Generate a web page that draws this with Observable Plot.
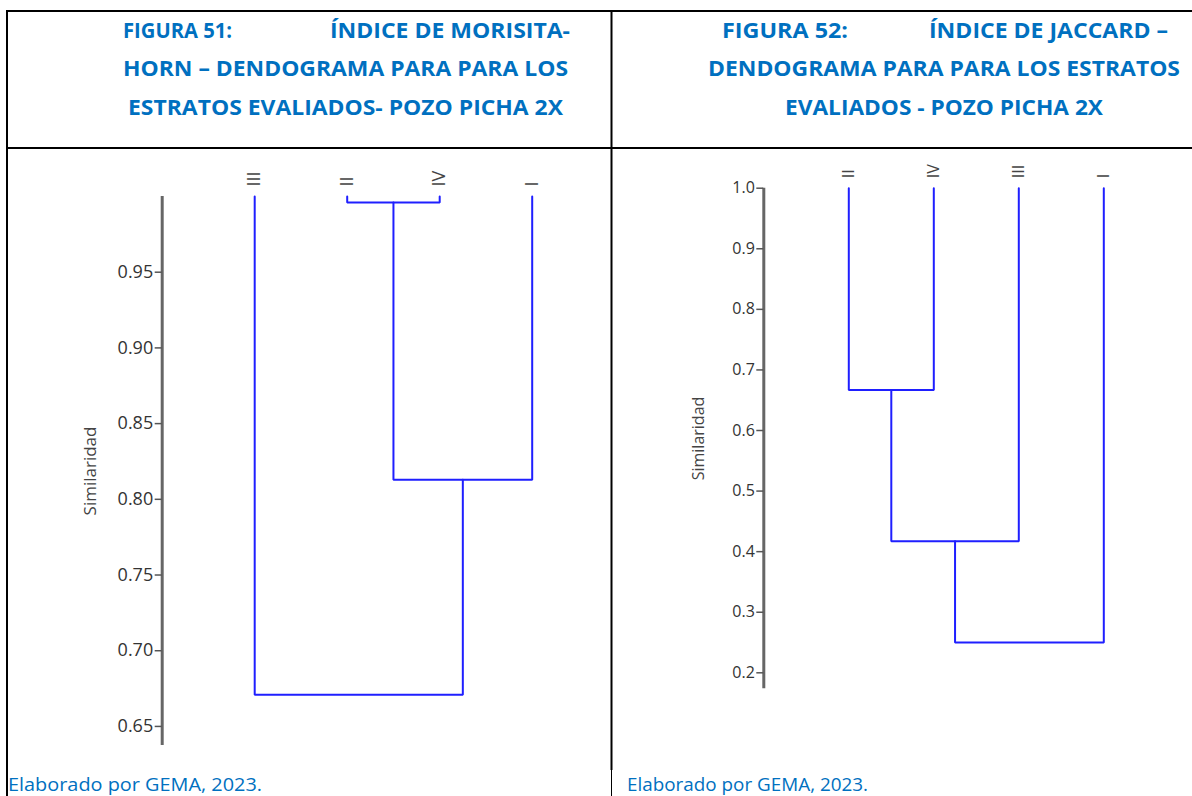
<!DOCTYPE html>
<html>
<head>
<meta charset="utf-8">
<script src="https://cdn.jsdelivr.net/npm/d3@7"></script>
<script src="https://cdn.jsdelivr.net/npm/@observablehq/plot@0.6"></script>
<style>
  html, body { margin: 0; padding: 0; background: #fff; }
  #page { position: relative; width: 1192px; height: 796px; overflow: hidden; background: #fff; }
  .chart { position: absolute; }
  #overlay { position: absolute; left: 0; top: 0; pointer-events: none; }
</style>
</head>
<body>
<div id="page">
  <div id="left" class="chart" style="left:0px; top:150px;"></div>
  <div id="right" class="chart" style="left:610px; top:150px;"></div>
  <svg id="overlay" width="1192" height="796"></svg>
</div>
<script>
// ---- Data: Morisita-Horn dendrogram (Figura 51)
const moriLeaves = ["III", "II", "IV", "I"];
const moriLeft   = ["II", "II-IV", "III"];
const moriRight  = ["IV", "I", "II-IV-I"];
const moriSim    = [0.996, 0.813, 0.671];
const moriTicks  = [0.65, 0.70, 0.75, 0.80, 0.85, 0.90, 0.95];

// ---- Data: Jaccard dendrogram (Figura 52)
const jacLeaves = ["II", "IV", "III", "I"];
const jacLeft   = ["II", "II-IV", "II-IV-III"];
const jacRight  = ["IV", "III", "I"];
const jacSim    = [0.667, 0.417, 0.25];
const jacTicks  = [0.2, 0.3, 0.4, 0.5, 0.6, 0.7, 0.8, 0.9, 1.0];

// ---- Texts
const title51 = ["FIGURA 51:", "ÍNDICE DE MORISITA-", "HORN – DENDOGRAMA PARA PARA LOS", "ESTRATOS EVALIADOS- POZO PICHA 2X"];
const title52 = ["FIGURA 52:", "ÍNDICE DE JACCARD –", "DENDOGRAMA PARA PARA LOS ESTRATOS", "EVALIADOS - POZO PICHA 2X"];
const captionText = "Elaborado por GEMA, 2023.";
const yLabel = "Similaridad";

function dendro(leaves, lefts, rights, sims, cfg) {
  const pos = new Map(leaves.map((d, i) => [d, {x: i, y: 1}]));
  const pts = [];
  lefts.forEach((l, i) => {
    const r = rights[i], a = pos.get(l), b = pos.get(r), s = sims[i];
    pts.push({id: i, x: a.x, y: a.y}, {id: i, x: a.x, y: s}, {id: i, x: b.x, y: s}, {id: i, x: b.x, y: b.y});
    pos.set(l + "-" + r, {x: (a.x + b.x) / 2, y: s});
  });
  return Plot.plot({
    width: cfg.width, height: cfg.height,
    marginLeft: cfg.ml, marginRight: cfg.mr, marginTop: cfg.mt, marginBottom: cfg.mb,
    x: {type: "linear", domain: [-1, leaves.length - 1], axis: null},
    y: {type: "linear", domain: cfg.domain, axis: null},
    style: {fontFamily: "'Open Sans', sans-serif", fontSize: cfg.fs + "px", color: "#333", background: "transparent", overflow: "visible"},
    marks: [
      Plot.ruleX([-1], {y1: cfg.domain[0], y2: cfg.domain[1], stroke: "#666", strokeWidth: 3}),
      Plot.axisY({ticks: cfg.ticks, tickFormat: d3.format(cfg.fmt), tickSize: 7, tickPadding: 2,
                  stroke: "#555", strokeWidth: 1.5, fill: "#333", label: null, fontSize: cfg.fs}),
      Plot.line(pts, {x: "x", y: "y", z: "id", stroke: "#1f1fff", strokeWidth: 2, strokeLinejoin: "miter", curve: "linear"}),
      Plot.text(leaves, {x: (d, i) => i, y: () => 1, text: d => d, rotate: -90, textAnchor: "start",
                         dy: -10, fill: "#444", fontSize: cfg.fs}),
      Plot.text([yLabel], {frameAnchor: "left", textAnchor: "middle", dx: -cfg.labelDx, rotate: -90,
                           fill: "#444", fontSize: cfg.lfs})
    ]
  });
}

document.getElementById("left").appendChild(dendro(moriLeaves, moriLeft, moriRight, moriSim, {
  width: 610, height: 620, ml: 161.7, mr: 78.3, mt: 46, mb: 25,
  domain: [0.6374, 1.0], ticks: moriTicks, fmt: ".2f", fs: 18, lfs: 17, labelDx: 72
}));
document.getElementById("right").appendChild(dendro(jacLeaves, jacLeft, jacRight, jacSim, {
  width: 582, height: 620, ml: 153.3, mr: 88.7, mt: 37.7, mb: 81.7,
  domain: [0.1736, 1.0], ticks: jacTicks, fmt: ".1f", fs: 16, lfs: 16, labelDx: 65
}));

// ---- Document table frame, titles and captions
const svg = d3.select("#overlay");
const lines = [
  [6, 11, 1192, 11, 2], [7, 11, 7, 796, 2], [6, 148, 1192, 148, 2],
  [611.5, 11, 611.5, 770, 2], [611.5, 770, 611.5, 796, 1]
];
svg.selectAll("line").data(lines).join("line")
  .attr("x1", d => d[0]).attr("y1", d => d[1]).attr("x2", d => d[2]).attr("y2", d => d[3])
  .attr("stroke", "#000").attr("stroke-width", d => d[4]);

const titleBits = [
  {t: title51[0], x: 123, w: 109, y: 38}, {t: title51[1], x: 330, w: 240, y: 38},
  {t: title51[2], x: 123, w: 445, y: 76}, {t: title51[3], x: 128, w: 435, y: 115},
  {t: title52[0], x: 722, w: 126, y: 38}, {t: title52[1], x: 929, w: 239, y: 38},
  {t: title52[2], x: 708, w: 472, y: 76}, {t: title52[3], x: 785, w: 318, y: 115}
];
svg.selectAll("text.title").data(titleBits).join("text").attr("class", "title")
  .attr("x", d => d.x).attr("y", d => d.y).attr("textLength", d => d.w).attr("lengthAdjust", "spacingAndGlyphs")
  .attr("font-family", "'Open Sans', sans-serif").attr("font-weight", "bold").attr("font-size", 21)
  .attr("fill", "#0070c0").text(d => d.t);

svg.selectAll("text.cap").data([{x: 8, w: 254}, {x: 627, w: 241}]).join("text").attr("class", "cap")
  .attr("x", d => d.x).attr("y", 791).attr("textLength", d => d.w).attr("lengthAdjust", "spacingAndGlyphs")
  .attr("font-family", "'Open Sans', sans-serif").attr("font-size", 19)
  .attr("fill", "#0070c0").text(captionText);
</script>
</body>
</html>
